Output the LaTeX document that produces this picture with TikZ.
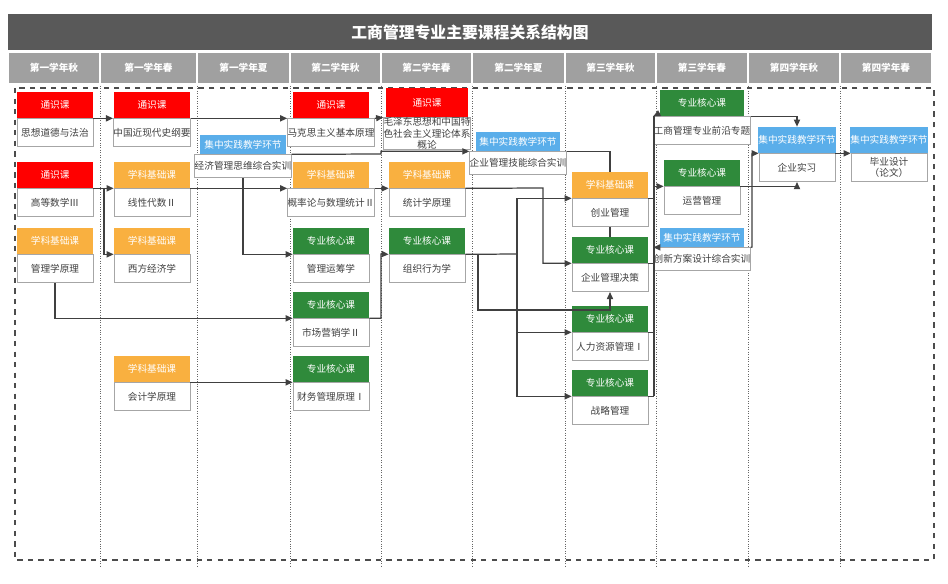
\documentclass[tikz,border=0pt]{standalone}
\usepackage{fontspec}
\setmainfont{Noto Sans CJK SC}
\usetikzlibrary{arrows.meta}
\definecolor{tongshi}{HTML}{FF0000}
\definecolor{jichu}{HTML}{F9B040}
\definecolor{hexin}{HTML}{2F8A3B}
\definecolor{shijian}{HTML}{5AAEEA}
\definecolor{titlegray}{HTML}{595959}
\definecolor{headgray}{HTML}{A0A0A0}

% course box: header over body
\newcommand\course[6]{%
  \node[hd,fill=#4] (#1h) at (#2,#3+13) {#5};
  \node[bd,anchor=north] (#1) at (#1h.south) {#6};}
% practice box (narrower header)
\newcommand\practice[4]{%
  \node[hd,fill=shijian,minimum width=#4,minimum height=0.38cm] (#1h) at (#2,#3+9.5) {集中实践教学环节};
  \node[bd,anchor=north,minimum width=#4,minimum height=0.46cm] (#1) at (#1h.south) {经#1};}

\begin{document}
\begin{tikzpicture}[x=0.02cm,y=-0.02cm,
  hd/.style={minimum width=1.52cm,minimum height=0.52cm,inner sep=0pt,text=white,font=\fontsize{5.5pt}{6.5pt}\selectfont},
  bd/.style={draw=black!35,fill=white,minimum width=1.52cm,minimum height=0.56cm,inner sep=0pt,align=center,font=\fontsize{5.5pt}{6.5pt}\selectfont,text=black!75},
  conn/.style={draw=black!75,line width=0.7pt,-{Triangle[length=4pt,width=3.5pt]}},
  line/.style={draw=black!75,line width=0.7pt}]

  % Frame
  \fill[white] (0,0) rectangle (948,584);
  \fill[titlegray] (8,14) rectangle (932,50);
  \node[text=white,font=\fontsize{9pt}{10pt}\selectfont\bfseries] (title) at (470,32) {工商管理专业主要课程关系结构图};
  \foreach \a/\b/\t [count=\i] in {8/100/第一学年秋,100/197/第一学年春,197/290/第一学年夏,290/381/第二学年秋,381/472/第二学年春,472/565/第二学年夏,565/656/第三学年秋,656/748/第三学年春,748/840/第四学年秋,840/932/第四学年春}{
    \fill[headgray,draw=white,line width=1pt] (\a,52) rectangle (\b,84);
    \node[text=white,font=\fontsize{5.5pt}{6.5pt}\selectfont\bfseries] (sem\i) at ({(\a+\b)/2},68) {\t};
  }
  \foreach \x in {100,197,290,381,472,565,656,748,840}
    \draw[black!60,densely dotted] (\x,86) -- (\x,568);
  \draw[black!70,dashed,line width=0.9pt] (15,88) rectangle (934,560);

  % Courses
  \course{sxdd}{55}{92}{tongshi}{通识课}{思想道德与法治}
  \course{gdsx}{55}{162}{tongshi}{通识课}{高等数学Ⅲ}
  \course{glx}{55}{228}{jichu}{学科基础课}{管理学原理}
  \course{zgjd}{152}{92}{tongshi}{通识课}{中国近现代史纲要}
  \course{xxds}{152}{162}{jichu}{学科基础课}{线性代数Ⅱ}
  \course{xfjj}{152}{228}{jichu}{学科基础课}{西方经济学}
  \course{kjx}{152}{356}{jichu}{学科基础课}{会计学原理}
  \node[hd,fill=shijian,minimum width=1.72cm,minimum height=0.38cm] (econh) at (243,144.5) {集中实践教学环节};
  \node[bd,anchor=north,minimum width=1.72cm,minimum height=0.46cm] (econ) at (econh.south) {经济管理思维综合实训};
  \course{mkszy}{331}{92}{tongshi}{通识课}{马克思主义基本原理}
  \course{gll}{331}{162}{jichu}{学科基础课}{概率论与数理统计Ⅱ}
  \course{glyc}{331}{228}{hexin}{专业核心课}{管理运筹学}
  \course{scyx}{331}{292}{hexin}{专业核心课}{市场营销学Ⅱ}
  \course{cwgl}{331}{356}{hexin}{专业核心课}{财务管理原理Ⅰ}
  \node[hd,fill=tongshi,minimum width=1.64cm,minimum height=0.58cm] (mzdh) at (427,102.5) {通识课};
  \node[bd,anchor=north,minimum width=1.64cm,minimum height=0.62cm] (mzd) at (mzdh.south) {毛泽东思想和中国特\\色社会主义理论体系\\概论};
  \course{tjx}{427}{162}{jichu}{学科基础课}{统计学原理}
  \course{zzxw}{427}{228}{hexin}{专业核心课}{组织行为学}
  \node[hd,fill=shijian,minimum width=1.68cm,minimum height=0.38cm] (skillh) at (518,141.5) {集中实践教学环节};
  \node[bd,anchor=north,minimum width=1.68cm,minimum height=0.46cm] (skill) at (skillh.south) {企业管理技能综合实训};
  \course{cygl}{610}{172}{jichu}{学科基础课}{创业管理}
  \course{qyjc}{610}{237}{hexin}{专业核心课}{企业管理决策}
  \course{rlzy}{610}{306}{hexin}{专业核心课}{人力资源管理Ⅰ}
  \course{zlgl}{610}{370}{hexin}{专业核心课}{战略管理}
  \node[hd,fill=hexin,minimum width=1.7cm] (qyh) at (702,103) {专业核心课};
  \node[bd,anchor=north,minimum width=1.7cm] (qy) at (qyh.south) {工商管理专业前沿专题};
  \course{yygl}{702}{160}{hexin}{专业核心课}{运营管理}
  \node[hd,fill=shijian,minimum width=1.7cm,minimum height=0.38cm] (cxfah) at (702,237.5) {集中实践教学环节};
  \node[bd,anchor=north,minimum width=1.7cm,minimum height=0.46cm] (cxfa) at (cxfah.south) {创新方案设计综合实训};
  \course{sx}{797}{127}{shijian}{集中实践教学环节}{企业实习}
  \course{bysj}{889}{127}{shijian}{集中实践教学环节}{毕业设计\\（论文）}

  % Connectors
  \coordinate (j1) at (104,188);
  \coordinate (j2) at (517,254);
  \coordinate (j3) at (478,254);
  \coordinate (bt) at (654,116);
  \coordinate (bb) at (654,396);
  \draw[conn] (sxdd.north east) -- (zgjd.north west);
  \draw[conn] (zgjd.north east) -- (mkszy.north west);
  \draw[conn] (mkszy.north east) -- (mzd.north west);
  \draw[conn] (econ.north east) -- (381,154) |- (skill.north west);
  \draw[conn] (gdsx.north east) -- (xxds.north west);
  \draw[conn] (j1) |- (xfjj.north west);
  \draw[conn] (xxds.north east) -- (gll.north west);
  \draw[conn] (gll.north east) -- (tjx.north west);
  \draw[conn] (tjx.north east) -- (543,188) |- (qyjc.north west);
  \draw[conn] (econ.south) |- (glyc.north west);
  \draw[conn] (glx.south) |- (scyx.north west);
  \draw[conn] (kjx.north east) -- (cwgl.north west);
  \draw[conn] (scyx.north east) -| (381,254) -- (zzxw.north west);
  \draw[line] (zzxw.north east) -- (j2);
  \draw[conn] (j2) |- (cygl.north west);
  \draw[conn] (j2) |- (rlzy.north west);
  \draw[conn] (j2) |- (zlgl.north west);
  \draw[conn] (j3) |- (610,310) -- (qyjc.south);
  \draw[line] (skill.north east) -| (cyglh.north);
  \draw[line] (cygl.south) -- (qyjch.north);
  \draw[line] (bt) -- (bb);
  \foreach \n in {cygl,qyjc,rlzy,zlgl}
    \draw[line] (\n.north east) -- (\n.north east -| bt);
  \draw[conn] (bt) -- (qy.north west);
  \draw[conn] (yygl.north west -| bt) -- (yygl.north west);
  \draw[conn] (cxfa.north west -| bt) -- (cxfa.north west);
  \draw[conn] (qy.north east) -| (sxh.north);
  \draw[conn] (yygl.north east) -| (sx.south);
  \draw[conn] (cxfa.north east) -- (752,247) |- (sx.north west);
  \draw[conn] (sx.north east) -- (bysj.north west);
\end{tikzpicture}
\end{document}
